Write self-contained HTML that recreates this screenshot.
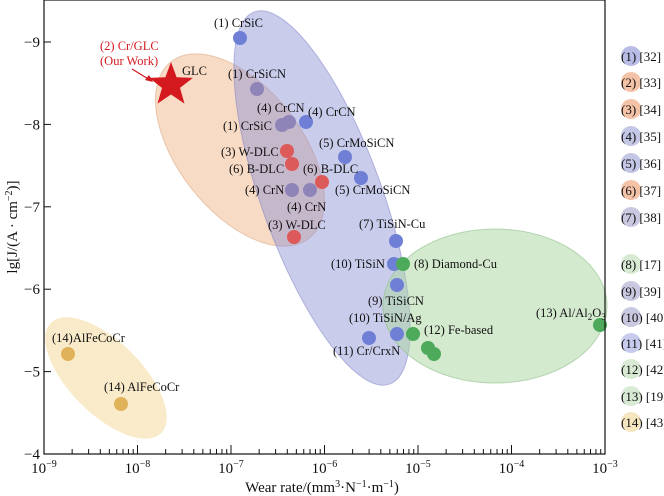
<!DOCTYPE html>
<html><head><meta charset="utf-8"><style>
html,body{margin:0;padding:0;background:#fff}
svg{display:block}
text{font-family:"Liberation Serif",serif;fill:#111}
</style></head><body>
<svg id="s" width="664" height="496" viewBox="0 0 664 496" xmlns="http://www.w3.org/2000/svg">
<ellipse cx="240" cy="150" rx="62" ry="112" transform="rotate(-38 240 150)" fill="#f2b88a" fill-opacity="0.5" stroke="#d9a07a" stroke-opacity="0.5"/>
<ellipse cx="322" cy="198" rx="60" ry="198" transform="rotate(-20 322 198)" fill="#8a8ed4" fill-opacity="0.45" stroke="#7a7ec4" stroke-opacity="0.5"/>
<ellipse cx="495" cy="306" rx="112" ry="77" fill="#a9d6a0" fill-opacity="0.5" stroke="#90c088" stroke-opacity="0.6"/>
<ellipse cx="106" cy="378" rx="36" ry="78" transform="rotate(-45 106 378)" fill="#f6dfac" fill-opacity="0.65"/>
<g fill="#6f7fd6">
<circle cx="240" cy="38" r="7"/><circle cx="306" cy="122" r="7"/><circle cx="345" cy="157" r="7"/><circle cx="361" cy="178" r="7"/>
<circle cx="396" cy="241" r="7"/><circle cx="394" cy="264" r="7"/><circle cx="397" cy="285" r="7"/><circle cx="397" cy="334" r="7"/><circle cx="369" cy="338" r="7"/>
</g>
<g fill="#8e84b8">
<circle cx="257" cy="89" r="7"/><circle cx="282" cy="125" r="7"/><circle cx="289" cy="122" r="7"/><circle cx="292" cy="190" r="7"/><circle cx="310" cy="190" r="7"/>
</g>
<g fill="#dc5a5a">
<circle cx="287" cy="151" r="7"/><circle cx="292" cy="164" r="7"/><circle cx="322" cy="182" r="7"/><circle cx="294" cy="237" r="7"/>
</g>
<g fill="#4caa5a">
<circle cx="403" cy="264" r="7"/><circle cx="413" cy="334" r="7"/><circle cx="428" cy="348" r="7"/><circle cx="434" cy="354" r="7"/><circle cx="600" cy="325" r="7"/>
</g>
<g fill="#e0b25a"><circle cx="68" cy="354" r="7"/><circle cx="121" cy="404" r="7"/></g>
<polygon id="star" fill="#d4191f"/>
<line x1="132" y1="69" x2="150" y2="80" stroke="#d4191f" stroke-width="1.2"/>
<polygon points="153,82 145,80 149,75" fill="#d4191f"/>
<g font-size="12.5">
<text x="100" y="50" style="fill:#d4191f">(2) Cr/GLC</text>
<text x="100" y="65" style="fill:#d4191f">(Our Work)</text>
<text x="182" y="75">GLC</text>
<text x="214" y="27">(1) CrSiC</text>
<text x="228" y="78">(1) CrSiCN</text>
<text x="257" y="112">(4) CrCN</text><text x="308" y="116">(4) CrCN</text>
<text x="223" y="130">(1) CrSiC</text>
<text x="319" y="147">(5) CrMoSiCN</text>
<text x="221" y="156">(3) W-DLC</text>
<text x="229" y="173">(6) B-DLC</text><text x="303" y="173">(6) B-DLC</text>
<text x="245" y="194">(4) CrN</text>
<text x="335" y="194">(5) CrMoSiCN</text>
<text x="287" y="211">(4) CrN</text>
<text x="268" y="229">(3) W-DLC</text>
<text x="359" y="228">(7) TiSiN-Cu</text>
<text x="331" y="268">(10) TiSiN</text>
<text x="414" y="268">(8) Diamond-Cu</text>
<text x="368" y="305">(9) TiSiCN</text>
<text x="349" y="322">(10) TiSiN/Ag</text>
<text x="424" y="334">(12) Fe-based</text>
<text x="333" y="355">(11) Cr/CrxN</text>
<text x="536" y="317">(13) Al/Al<tspan font-size="9" dy="3">2</tspan><tspan dy="-3">O</tspan><tspan font-size="9" dy="3">3</tspan></text>
<text x="52" y="342">(14)AlFeCoCr</text>
<text x="104" y="391">(14) AlFeCoCr</text>
</g>
<rect x="44" y="0" width="561" height="454" fill="none" stroke="#111" stroke-width="1.2"/>
<g id="ticks" stroke="#111" stroke-width="1"></g>
<g font-size="15" text-anchor="end" id="yl"></g>
<g font-size="15" text-anchor="middle" id="xl"></g>
<text x="322" y="492" font-size="15" text-anchor="middle">Wear rate/(mm<tspan font-size="10" dy="-5">3</tspan><tspan dy="5">·N</tspan><tspan font-size="10" dy="-5">−1</tspan><tspan dy="5">·m</tspan><tspan font-size="10" dy="-5">−1</tspan><tspan dy="5">)</tspan></text>
<text transform="translate(17 227) rotate(-90)" font-size="15" text-anchor="middle">lg[J/(A · cm<tspan font-size="10" dy="-5">−2</tspan><tspan dy="5">)]</tspan></text>
<g id="leg" font-size="13"></g>
</svg>
<script>
var ns="http://www.w3.org/2000/svg";
function el(p,t,a,tx){var e=document.createElementNS(ns,t);for(var k in a)e.setAttribute(k,a[k]);if(tx!==undefined)e.innerHTML=tx;document.getElementById(p).appendChild(e);return e;}
var pts=[],cx=171,cy=85,R=23,r=9.5;for(var i=0;i<10;i++){var a=-Math.PI/2+i*Math.PI/5,rr=i%2?r:R;pts.push((cx+rr*Math.cos(a)).toFixed(1)+","+(cy+rr*Math.sin(a)).toFixed(1));}
document.getElementById("star").setAttribute("points",pts.join(" "));
var d=93.5;
for(var k=0;k<=6;k++){var x=44+k*d;el("ticks","line",{x1:x,y1:454,x2:x,y2:445});
el("xl","text",{x:x,y:473},"10<tspan font-size='10' dy='-6'>−"+(9-k)+"</tspan>");
if(k<6)for(var m=2;m<10;m++){var xm=x+Math.log10(m)*d;el("ticks","line",{x1:xm,y1:454,x2:xm,y2:449});}}
for(var v=-9;v<=-4;v++){var y=42+(v+9)*82.4;el("ticks","line",{x1:44,y1:y,x2:51,y2:y});el("yl","text",{x:40,y:y+5},"−"+(-v));}
var L=[["(1) [32]","#b8bce6"],["(2) [33]","#f4c2a6"],["(3) [34]","#f4c2a6"],["(4) [35]","#c4c6e6"],["(5) [36]","#c4c6e6"],["(6) [37]","#f4c2a6"],["(7) [38]","#c8c8e0"],
["(8) [17]","#d8ead4"],["(9) [39]","#c8c8e0"],["(10) [40]","#c8c8e0"],["(11) [41]","#c8cbee"],["(12) [42]","#d8ead4"],["(13) [19]","#d8ead4"],["(14) [43]","#f6e6c0"]];
var Y=[56,82,109,136,163,190,217,264,291,317,343,369,396,422];
L.forEach(function(l,i){el("leg","circle",{cx:631,cy:Y[i],r:10,fill:l[1]});el("leg","text",{x:621,y:Y[i]+5},l[0]);});
</script>
</body></html>
